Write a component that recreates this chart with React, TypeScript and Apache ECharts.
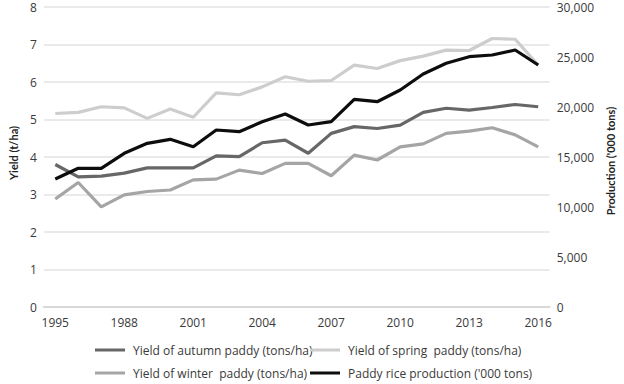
import React, { useEffect, useRef } from "react";
import * as echarts from "echarts";

const years = [
  "1995", "1996", "1997", "1998", "1999", "2000", "2001", "2002", "2003", "2004", "2005",
  "2006", "2007", "2008", "2009", "2010", "2011", "2012", "2013", "2014", "2015", "2016",
];
// tick labels as printed in the source (note "1988" printed for 1998)
const tickLabels: Record<string, string> = {
  "1995": "1995", "1998": "1988", "2001": "2001", "2004": "2004",
  "2007": "2007", "2010": "2010", "2013": "2013", "2016": "2016",
};
const autumnYield = [3.8, 3.47, 3.49, 3.57, 3.71, 3.71, 3.71, 4.03, 4.01, 4.38, 4.45, 4.1, 4.63, 4.81, 4.76, 4.85, 5.19, 5.3, 5.25, 5.32, 5.4, 5.34];
const springYield = [5.16, 5.19, 5.34, 5.31, 5.03, 5.28, 5.06, 5.71, 5.66, 5.87, 6.14, 6.02, 6.04, 6.45, 6.36, 6.57, 6.69, 6.85, 6.84, 7.16, 7.14, 6.45];
const winterYield = [2.88, 3.32, 2.67, 2.99, 3.08, 3.12, 3.39, 3.41, 3.65, 3.56, 3.83, 3.83, 3.5, 4.05, 3.92, 4.27, 4.35, 4.63, 4.69, 4.78, 4.59, 4.27];
const production = [12800, 13870, 13870, 15370, 16370, 16770, 16030, 17700, 17530, 18530, 19300, 18200, 18530, 20770, 20530, 21700, 23300, 24370, 25030, 25200, 25700, 24200];

const names = [
  "Yield of autumn paddy (tons/ha)",
  "Yield of spring  paddy (tons/ha)",
  "Yield of winter  paddy (tons/ha)",
  "Paddy rice production ('000 tons)",
];
const colors = ["#676767", "#cdcdcd", "#a5a5a5", "#0d0d0d"];

const FONT = "'Open Sans', 'Liberation Sans', sans-serif";
const NAME_FONT = "Lato, 'Open Sans', sans-serif";

export default function App() {
  const ref = useRef<HTMLDivElement>(null);
  useEffect(() => {
    if (!ref.current) return;
    const chart = echarts.init(ref.current, undefined, { renderer: "svg" });
    const legendPos = [
      { left: 95, top: 344 },
      { left: 310, top: 344 },
      { left: 95, top: 367 },
      { left: 310, top: 367 },
    ];
    chart.setOption({
      animation: false,
      backgroundColor: "#ffffff",
      textStyle: { fontFamily: FONT },
      grid: { left: 32, right: 73, top: 7, bottom: 77 },
      legend: names.map((n, i) => ({
        data: [n],
        left: legendPos[i].left,
        top: legendPos[i].top,
        icon: "rect",
        itemWidth: 30,
        itemHeight: 3,
        itemGap: 0,
        padding: 0,
        textStyle: { fontFamily: FONT, fontSize: 12, color: "#3a3a3a", padding: [0, 0, 0, 3] },
      })),
      xAxis: {
        type: "category",
        data: years,
        boundaryGap: true,
        axisLine: { lineStyle: { color: "#d9d9d9", width: 2 } },
        axisTick: { show: false },
        axisLabel: {
          interval: 0,
          formatter: (v: string) => tickLabels[v] ?? "",
          fontFamily: FONT,
          fontSize: 12,
          color: "#3a3a3a",
          margin: 9,
        },
      },
      yAxis: [
        {
          type: "value",
          min: 0,
          max: 8,
          interval: 1,
          name: "Yield (t/ha)",
          nameLocation: "middle",
          nameGap: 21,
          nameTextStyle: { fontFamily: NAME_FONT, fontSize: 11, fontWeight: "bold", color: "#222", padding: [0, 0, 0, 8] },
          axisLine: { show: false },
          axisTick: { show: false },
          axisLabel: { fontFamily: FONT, fontSize: 12, color: "#3a3a3a", margin: 7 },
          splitLine: { lineStyle: { color: "#e3e3e3", width: 1.5 } },
        },
        {
          type: "value",
          min: 0,
          max: 30000,
          interval: 5000,
          position: "right",
          name: "Production ('000 tons)",
          nameLocation: "middle",
          nameGap: 55,
          nameRotate: 90,
          nameTextStyle: { fontFamily: NAME_FONT, fontSize: 11, fontWeight: "bold", color: "#222", padding: [0, 8, 0, 0] },
          axisLine: { show: false },
          axisTick: { show: false },
          axisLabel: {
            fontFamily: FONT,
            fontSize: 12,
            color: "#3a3a3a",
            margin: 7,
            formatter: (v: number) => v.toLocaleString("en-US"),
          },
          splitLine: { show: false },
        },
      ],
      series: [
        { name: names[0], type: "line", data: autumnYield, yAxisIndex: 0 },
        { name: names[1], type: "line", data: springYield, yAxisIndex: 0 },
        { name: names[2], type: "line", data: winterYield, yAxisIndex: 0 },
        { name: names[3], type: "line", data: production, yAxisIndex: 1 },
      ].map((s, i) => ({
        ...s,
        symbol: "none",
        color: colors[i],
        lineStyle: { color: colors[i], width: 3.2 },
        z: i === 3 ? 5 : 3,
      })),
    });
    return () => chart.dispose();
  }, []);
  return <div ref={ref} style={{ width: 624, height: 384, position: "absolute", left: 0, top: 0 }} />;
}
